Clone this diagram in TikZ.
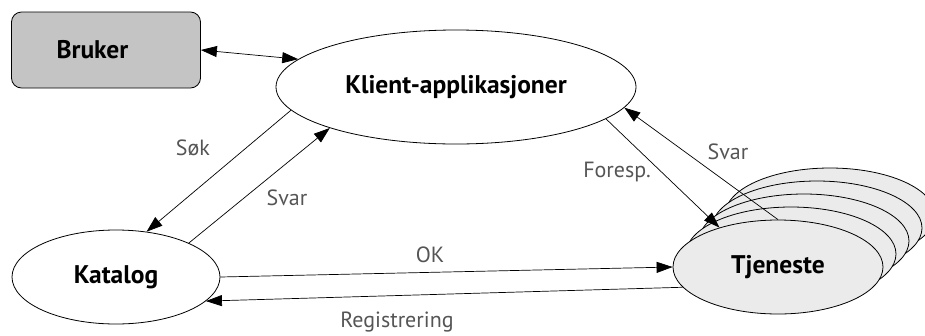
\documentclass[tikz,border=0pt]{standalone}
\usepackage{fontspec}
\setmainfont{PT Sans}
\usetikzlibrary{shapes.geometric,arrows.meta}
\definecolor{brukerfill}{HTML}{C4C4C4}
\definecolor{tjfill}{HTML}{EBEBEB}
\definecolor{lblgray}{HTML}{555555}
\begin{document}
\begin{tikzpicture}[x=1pt,y=1pt,
  boldtext/.style={font=\fontsize{25.5}{30}\selectfont\bfseries},
  oval/.style={ellipse, draw, line width=0.8pt, inner sep=0pt, boldtext},
  conn/.style={line width=0.7pt, -{Triangle[length=16pt,width=11pt]}},
  biconn/.style={line width=0.7pt, {Triangle[length=16pt,width=11pt]}-{Triangle[length=16pt,width=11pt]}},
  lbl/.style={text=lblgray, font=\fontsize{22}{26}\selectfont, inner sep=0pt}
]
\useasboundingbox (0,0) rectangle (925,-335);

% nodes
\node[draw, line width=0.8pt, rounded corners=10pt, fill=brukerfill, boldtext,
      minimum height=76pt, inner xsep=45pt, text width=99pt, align=left] (bruker) at (106,-50) {Bruker};
\node[oval, minimum width=360pt, minimum height=114pt] (klient) at (456,-87) {Klient-applikasjoner};
\node[oval, minimum width=208pt, minimum height=94pt] (katalog) at (116,-277) {Katalog};

\foreach \k in {4,3,2,1}{
  \node[oval, fill=tjfill, minimum width=210pt, minimum height=94pt] (tj\k) at ({778+13*\k},{-267+13*\k}) {};
}
\node[oval, fill=tjfill, minimum width=210pt, minimum height=94pt] (tjeneste) at (778,-267) {Tjeneste};

% connectors
\draw[biconn] (bruker.east) -- (klient.170);
\draw[conn] (klient.188) -- (katalog.56);
\draw[conn] (katalog.25) -- (klient.198);
\draw[conn] (klient.348) -- (tjeneste.146);
\draw[conn] (tjeneste.90) -- (klient.353);
\draw[conn] (katalog.east) -- (tjeneste.west);
\draw[conn] (tjeneste.192) -- (katalog.345);

% labels
\node[lbl] (lsok) at (193,-148) {Søk};
\node[lbl] (lsvar1) at (287,-198) {Svar};
\node[lbl] (lforesp) at (617,-172) {Foresp.};
\node[lbl] (lsvar2) at (728,-152) {Svar};
\node[lbl] (lok) at (430,-255) {OK};
\node[lbl] (lreg) at (397,-322) {Registrering};
\end{tikzpicture}
\end{document}
